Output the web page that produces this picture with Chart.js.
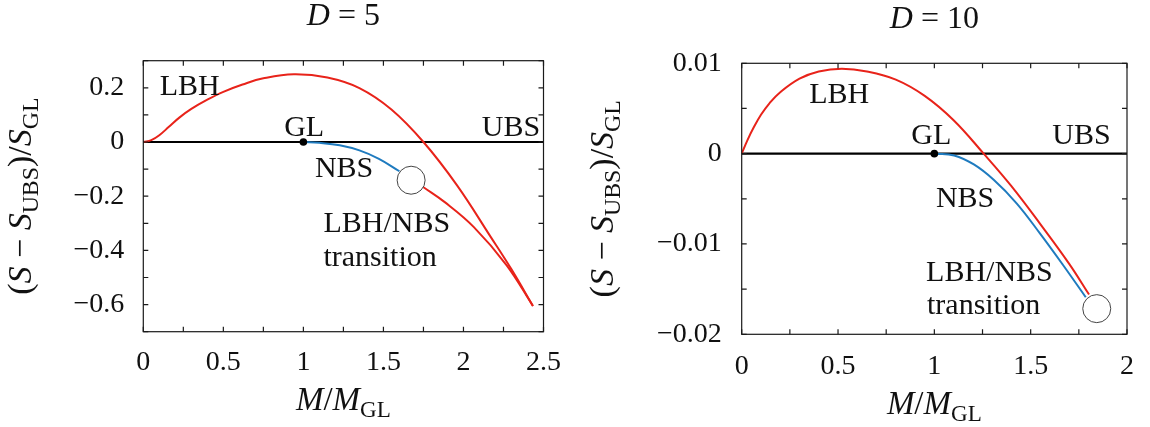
<!DOCTYPE html>
<html>
<head>
<meta charset="utf-8">
<script src="https://cdn.jsdelivr.net/npm/chart.js@4.4.0/dist/chart.umd.min.js"></script>
<style>
  body { margin: 0; background: #fff; }
  #wrap { position: relative; width: 1150px; height: 427px; }
  canvas { position: absolute; top: 0; }
  #chartD5 { left: 0; }
  #chartD10 { left: 575px; }
</style>
</head>
<body>
<div id="wrap">
  <canvas id="chartD5" width="575" height="427"></canvas>
  <canvas id="chartD10" width="575" height="427"></canvas>
</div>
<script>
// ---- D = 5 data ----
var d5LbhM   = [0, 0.05, 0.1, 0.16, 0.225, 0.3, 0.4, 0.5, 0.62, 0.75, 0.94, 1.15, 1.35, 1.55, 1.75, 1.96, 2.17, 2.3, 2.434];
var d5LbhS   = [0, 0.007, 0.025, 0.056, 0.09, 0.122, 0.156, 0.185, 0.212, 0.235, 0.25, 0.238, 0.199, 0.12, 0, -0.16, -0.35, -0.47, -0.605];
var d5LbhLowM = [1.748, 1.881, 2.065, 2.27, 2.434];
var d5LbhLowS = [-0.166, -0.221, -0.314, -0.455, -0.605];
var d5NbsM   = [1, 1.1, 1.227, 1.35, 1.472, 1.6];
var d5NbsS   = [0, -0.003, -0.012, -0.031, -0.062, -0.108];
var d5Trans  = [1.673, -0.141];

// ---- D = 10 data ----
var d10LbhM  = [0, 0.03, 0.06, 0.1, 0.145, 0.2, 0.3, 0.4, 0.52, 0.65, 0.8, 0.95, 1.1, 1.256, 1.4, 1.55, 1.7, 1.803];
var d10LbhS  = [0, 0.0015, 0.0028, 0.0043, 0.0056, 0.0068, 0.0083, 0.0091, 0.0094, 0.0091, 0.0082, 0.0064, 0.0037, 0, -0.0036, -0.0078, -0.0122, -0.0156];
var d10NbsM  = [1.003, 1.103, 1.205, 1.308, 1.427, 1.547, 1.667, 1.786];
var d10NbsS  = [0, -0.0002, -0.0012, -0.0029, -0.0055, -0.0088, -0.0123, -0.0159];
var d10Trans = [1.843, -0.01716];

// GL point (both panels)
var glPoint = [1, 0];

// labelled ticks
var d5XTicks  = [0, 0.5, 1, 1.5, 2, 2.5];
var d5YTicks  = [0.2, 0, -0.2, -0.4, -0.6];
var d10XTicks = [0, 0.5, 1, 1.5, 2];
var d10YTicks = [0.01, 0, -0.01, -0.02];

// text labels (data coords: left edge, baseline)
var d5Labels = [
  { t: "LBH", x: 0.102, y: 0.172 },
  { t: "GL", x: 0.88, y: 0.021 },
  { t: "UBS", x: 2.115, y: 0.021 },
  { t: "NBS", x: 1.072, y: -0.130 },
  { t: "LBH/NBS", x: 1.125, y: -0.333 },
  { t: "transition", x: 1.125, y: -0.457 }
];
var d10Labels = [
  { t: "LBH", x: 0.35, y: 0.00562 },
  { t: "GL", x: 0.88, y: 0.00103 },
  { t: "UBS", x: 1.612, y: 0.00103 },
  { t: "NBS", x: 1.008, y: -0.00593 },
  { t: "LBH/NBS", x: 0.957, y: -0.01408 },
  { t: "transition", x: 0.962, y: -0.01774 }
];

var RED = "#e8231a";
var BLUE = "#1f7bbf";
var FONT = "'Liberation Serif', 'Times New Roman', serif";

function toPoints(xs, ys) {
  var pts = [];
  for (var i = 0; i < xs.length; i++) pts.push({ x: xs[i], y: ys[i] });
  return pts;
}

function fmt(v) {
  var s = String(parseFloat(v.toFixed(4)));
  return s.replace("-", "\u2212");
}

function hasTick(list, v) {
  for (var i = 0; i < list.length; i++) {
    if (Math.abs(list[i] - v) < 1e-9) return true;
  }
  return false;
}

// rich text with italic letters and subscripts, centred on x
function drawRich(ctx, parts, x, y, size) {
  var widths = [];
  var total = 0;
  for (var i = 0; i < parts.length; i++) {
    var p = parts[i];
    ctx.font = (p.it ? "italic " : "") + (p.sub ? size * 0.7 : size) + "px " + FONT;
    widths[i] = ctx.measureText(p.t).width;
    total += widths[i];
  }
  var cx = x - total / 2;
  ctx.textAlign = "left";
  ctx.textBaseline = "alphabetic";
  for (var j = 0; j < parts.length; j++) {
    var q = parts[j];
    ctx.font = (q.it ? "italic " : "") + (q.sub ? size * 0.7 : size) + "px " + FONT;
    ctx.fillText(q.t, cx, y + (q.sub ? size * 0.22 : 0));
    cx += widths[j];
  }
}

var xTitleParts = [
  { t: "M", it: true }, { t: "/" }, { t: "M", it: true }, { t: "GL", sub: true }
];
var yTitleParts = [
  { t: "(" }, { t: "S", it: true }, { t: " \u2212 " }, { t: "S", it: true },
  { t: "UBS", sub: true }, { t: ")/" }, { t: "S", it: true }, { t: "GL", sub: true }
];

// frame, inward ticks, labels and titles
var decorPlugin = {
  id: "decor",
  afterDraw: function (chart) {
    var o = chart.options.plugins.decor;
    var ctx = chart.ctx;
    var a = chart.chartArea;
    var xs = chart.scales.x;
    var ys = chart.scales.y;
    var tl = 5;

    ctx.save();
    ctx.strokeStyle = "#1a1a1a";
    ctx.lineWidth = 1.2;
    ctx.beginPath();
    xs.ticks.forEach(function (t) {
      var px = xs.getPixelForValue(t.value);
      ctx.moveTo(px, a.bottom); ctx.lineTo(px, a.bottom - tl);
      ctx.moveTo(px, a.top); ctx.lineTo(px, a.top + tl);
    });
    ys.ticks.forEach(function (t) {
      var py = ys.getPixelForValue(t.value);
      ctx.moveTo(a.left, py); ctx.lineTo(a.left + tl, py);
      ctx.moveTo(a.right, py); ctx.lineTo(a.right - tl, py);
    });
    ctx.stroke();
    ctx.strokeRect(a.left, a.top, a.right - a.left, a.bottom - a.top);

    // curve labels
    ctx.fillStyle = "#111";
    ctx.font = "30px " + FONT;
    ctx.textAlign = "left";
    ctx.textBaseline = "alphabetic";
    o.labels.forEach(function (l) {
      ctx.fillText(l.t, xs.getPixelForValue(l.x), ys.getPixelForValue(l.y));
    });

    // panel title
    var mid = (a.left + a.right) / 2;
    drawRich(ctx, [{ t: "D", it: true }, { t: " = " + o.dval }], mid, o.titleY, 32);

    // axis titles
    drawRich(ctx, xTitleParts, mid, o.xTitleY, 33);
    ctx.save();
    ctx.translate(o.yTitleX, (a.top + a.bottom) / 2);
    ctx.rotate(-Math.PI / 2);
    drawRich(ctx, yTitleParts, 0, 0, 34);
    ctx.restore();
    ctx.restore();
  }
};

function makePanel(canvasId, cfg) {
  var datasets = [
    { data: [{ x: cfg.trans[0], y: cfg.trans[1] }], pointRadius: 14, backgroundColor: "#fff",
      borderColor: "#444", borderWidth: 1, showLine: false },
    { data: [{ x: glPoint[0], y: glPoint[1] }], pointRadius: 3.8, backgroundColor: "#000",
      borderWidth: 0, showLine: false },
    { data: toPoints(cfg.nbsM, cfg.nbsS), borderColor: BLUE, borderWidth: 2, pointRadius: 0,
      showLine: true, tension: 0.4 },
    { data: toPoints(cfg.lbhM, cfg.lbhS), borderColor: RED, borderWidth: 2, pointRadius: 0,
      showLine: true, tension: 0.4 }
  ];
  if (cfg.lowM) {
    datasets.push({ data: toPoints(cfg.lowM, cfg.lowS), borderColor: RED, borderWidth: 2,
      pointRadius: 0, showLine: true, tension: 0.4 });
  }
  datasets.push({ data: [{ x: 0, y: 0 }, { x: cfg.xMax, y: 0 }], borderColor: "#000",
    borderWidth: 2.2, pointRadius: 0, showLine: true });

  return new Chart(document.getElementById(canvasId), {
    type: "scatter",
    data: { datasets: datasets },
    options: {
      responsive: false,
      animation: false,
      events: [],
      layout: { padding: cfg.padding },
      plugins: {
        legend: { display: false },
        tooltip: { enabled: false },
        decor: { labels: cfg.labels, dval: cfg.dval, titleY: cfg.titleY,
                 xTitleY: cfg.xTitleY, yTitleX: cfg.yTitleX }
      },
      scales: {
        x: {
          type: "linear", min: 0, max: cfg.xMax,
          grid: { display: false, drawTicks: false },
          border: { display: false },
          ticks: {
            stepSize: cfg.xStep, autoSkip: false, maxRotation: 0, padding: cfg.xPad,
            color: "#111", font: { family: FONT, size: 28 },
            callback: function (v) { return hasTick(cfg.xTicks, v) ? fmt(v) : ""; }
          },
          afterFit: function (s) { s.height = cfg.xHeight; }
        },
        y: {
          type: "linear", min: cfg.yMin, max: cfg.yMax,
          grid: { display: false, drawTicks: false },
          border: { display: false },
          ticks: {
            stepSize: cfg.yStep, autoSkip: false, padding: cfg.yPad,
            color: "#111", font: { family: FONT, size: 28 },
            callback: function (v) { return hasTick(cfg.yTicks, v) ? fmt(v) : ""; }
          },
          afterFit: function (s) { s.width = 110; }
        }
      }
    },
    plugins: [decorPlugin]
  });
}

makePanel("chartD5", {
  lbhM: d5LbhM, lbhS: d5LbhS, lowM: d5LbhLowM, lowS: d5LbhLowS,
  nbsM: d5NbsM, nbsS: d5NbsS, trans: d5Trans, labels: d5Labels,
  xMax: 2.5, xStep: 0.25, xTicks: d5XTicks,
  yMin: -0.7, yMax: 0.3, yStep: 0.1, yTicks: d5YTicks,
  padding: { left: 33.3, top: 60.7, right: 24, bottom: 0 },
  xHeight: 95.3, xPad: 14, yPad: 19,
  dval: "5", titleY: 25, xTitleY: 410, yTitleX: 31
});

makePanel("chartD10", {
  lbhM: d10LbhM, lbhS: d10LbhS, lowM: null, lowS: null,
  nbsM: d10NbsM, nbsS: d10NbsS, trans: d10Trans, labels: d10Labels,
  xMax: 2, xStep: 0.25, xTicks: d10XTicks,
  yMin: -0.02, yMax: 0.01, yStep: 0.005, yTicks: d10YTicks,
  padding: { left: 56.7, top: 63.3, right: 18.3, bottom: 0 },
  xHeight: 92.7, xPad: 16, yPad: 20,
  dval: "10", titleY: 28, xTitleY: 414, yTitleX: 38
});
</script>
</body>
</html>
